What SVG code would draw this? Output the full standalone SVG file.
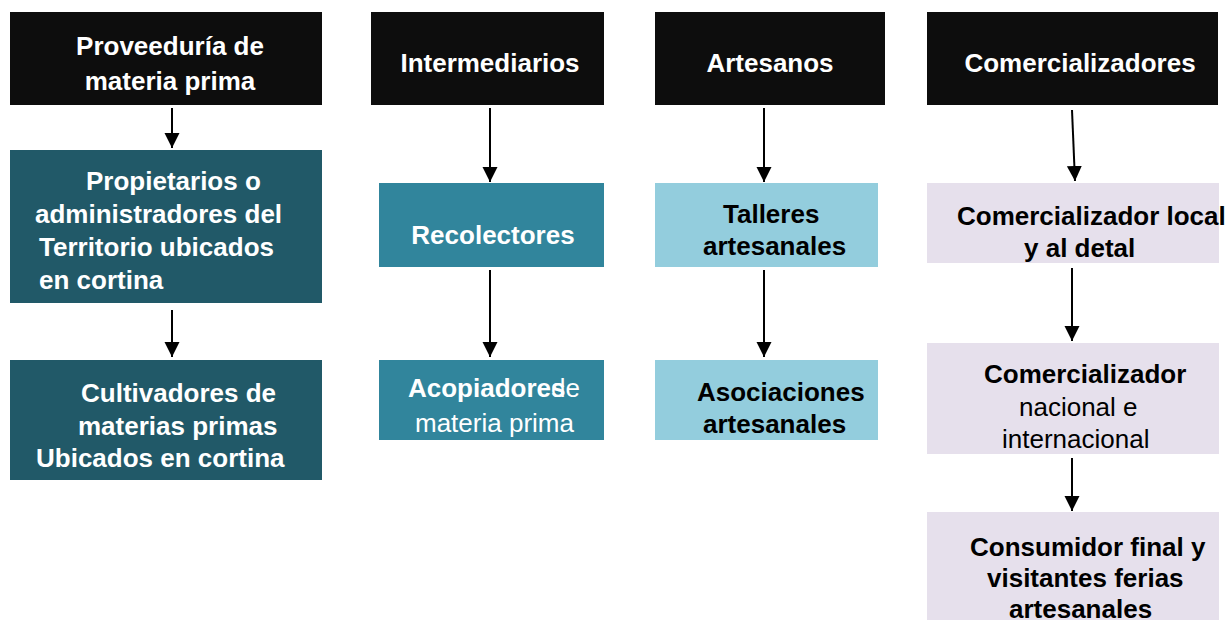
<svg xmlns="http://www.w3.org/2000/svg" width="1232" height="620" viewBox="0 0 1232 620">
<style>
text{font-family:"Liberation Sans",Arial,sans-serif;font-size:26px}
.b{font-weight:bold}
.w{fill:#ffffff}
.k{fill:#000000}
.hd{fill:#0d0d0d}
.c1{fill:#215968}
.c2{fill:#31859c}
.c3{fill:#93cddd}
.c4{fill:#e6e0ec}
.ar{stroke:#000;stroke-width:2;fill:none;marker-end:url(#ah)}
</style>
<defs>
<marker id="ah" markerUnits="userSpaceOnUse" markerWidth="16" markerHeight="16" refX="15" refY="8" orient="auto" viewBox="0 0 16 16">
<path d="M0,0.5 L15,8 L0,15.5 Z" fill="#000"/>
</marker>
</defs>
<rect width="1232" height="620" fill="#ffffff"/>

<g id="h1"><rect class="hd" x="10" y="12" width="312" height="93"/>
<text class="b w" text-anchor="middle"><tspan x="170" y="55">Proveeduría de</tspan><tspan x="170" y="90">materia prima</tspan></text></g>
<g id="n1a"><rect class="c1" x="10" y="150" width="312" height="153"/>
<text class="b w"><tspan x="86" y="190">Propietarios o</tspan><tspan x="35" y="223">administradores del</tspan><tspan x="39" y="256">Territorio ubicados</tspan><tspan x="39" y="289">en cortina</tspan></text></g>
<g id="n1b"><rect class="c1" x="10" y="360" width="312" height="120"/>
<text class="b w"><tspan x="81" y="402">Cultivadores de</tspan><tspan x="78" y="435">materias primas</tspan><tspan x="36" y="467">Ubicados en cortina</tspan></text></g>

<g id="h2"><rect class="hd" x="371" y="12" width="233" height="93"/>
<text class="b w" x="490" y="72" text-anchor="middle">Intermediarios</text></g>
<g id="n2a"><rect class="c2" x="379" y="183" width="225" height="84"/>
<text class="b w" x="493" y="244" text-anchor="middle">Recolectores</text></g>
<g id="n2b"><rect class="c2" x="379" y="360" width="225" height="80"/>
<text class="w" x="551" y="397">de</text>
<text class="b w" x="408" y="397">Acopiadores</text>
<text class="w" x="415" y="432">materia prima</text></g>

<g id="h3"><rect class="hd" x="655" y="12" width="230" height="93"/>
<text class="b w" x="770" y="72" text-anchor="middle">Artesanos</text></g>
<g id="n3a"><rect class="c3" x="655" y="183" width="223" height="84"/>
<text class="b k"><tspan x="723" y="223">Talleres</tspan><tspan x="703" y="255">artesanales</tspan></text></g>
<g id="n3b"><rect class="c3" x="655" y="360" width="223" height="80"/>
<text class="b k"><tspan x="697" y="401">Asociaciones</tspan><tspan x="703" y="433">artesanales</tspan></text></g>

<g id="h4"><rect class="hd" x="927" y="12" width="291" height="93"/>
<text class="b w" x="1080" y="72" text-anchor="middle">Comercializadores</text></g>
<g id="n4a"><rect class="c4" x="927" y="183" width="292" height="80"/>
<text class="b k"><tspan x="957" y="225">Comercializador local</tspan><tspan x="1024" y="257">y al detal</tspan></text></g>
<g id="n4b"><rect class="c4" x="927" y="343" width="292" height="111"/>
<text class="k"><tspan class="b" x="984" y="383">Comercializador</tspan><tspan x="1019" y="416">nacional e</tspan><tspan x="1002" y="448">internacional</tspan></text></g>
<g id="n4c"><rect class="c4" x="927" y="512" width="292" height="108"/>
<text class="b k"><tspan x="970" y="556">Consumidor final y</tspan><tspan x="987" y="587">visitantes ferias</tspan><tspan x="1009" y="618">artesanales</tspan></text></g>

<g id="connectors">
<line class="ar" x1="172" y1="108" x2="172" y2="148"/>
<line class="ar" x1="172" y1="310" x2="172" y2="357"/>
<line class="ar" x1="490" y1="108" x2="490" y2="182"/>
<line class="ar" x1="490" y1="270" x2="490" y2="357"/>
<line class="ar" x1="764" y1="108" x2="764" y2="182"/>
<line class="ar" x1="764" y1="270" x2="764" y2="357"/>
<line class="ar" x1="1072" y1="110" x2="1075" y2="181"/>
<line class="ar" x1="1072" y1="268" x2="1072" y2="341"/>
<line class="ar" x1="1072" y1="458" x2="1072" y2="511"/>
</g>
</svg>
